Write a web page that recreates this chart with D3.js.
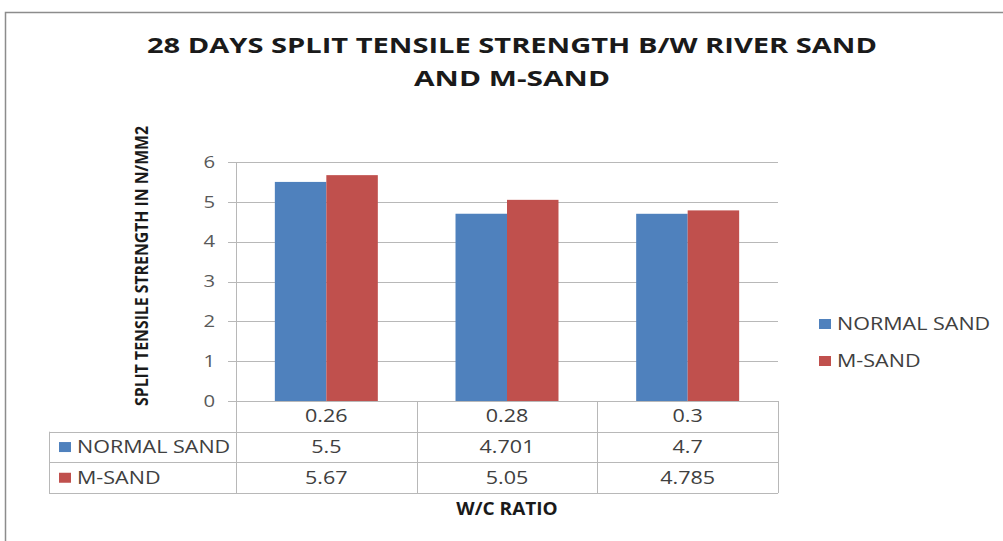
<!DOCTYPE html>
<html>
<head>
<meta charset="utf-8">
<script src="https://cdn.jsdelivr.net/npm/d3@7"></script>
<style>
  body { margin: 0; background: #fff; }
  svg { display: block; font-family: "Open Sans", sans-serif; }
</style>
</head>
<body>
<div id="chart"></div>
<script>
const W = 1003, H = 541;
const categories = ["0.26", "0.28", "0.3"];
const seriesNames = ["NORMAL SAND", "M-SAND"];
const normalSand = [5.5, 4.701, 4.7];
const mSand = [5.67, 5.05, 4.785];
const tableLabels = [["5.5", "4.701", "4.7"], ["5.67", "5.05", "4.785"]];
const yTicks = [0, 1, 2, 3, 4, 5, 6];
const COLORS = ["#4F81BD", "#C0504D"];

const PLOT = { left: 236, right: 778, top: 162, bottom: 401 };
const TABLE = { left: 49, rowH: 30.7 };
const SX = 1.23;           // the source picture is stretched horizontally
const TXT = "#404040";

const svg = d3.select("#chart").append("svg")
  .attr("width", W).attr("height", H);

// stretched text helper
function label(g, x, y, text, opts = {}) {
  return g.append("text")
    .attr("transform", `translate(${x},${y}) scale(${opts.sx || SX},1)`)
    .attr("dy", "0.35em")
    .attr("text-anchor", opts.anchor || "start")
    .attr("font-size", opts.size || 17.5)
    .attr("font-weight", opts.weight || "normal")
    .attr("fill", opts.fill || TXT)
    .text(text);
}

// outer frame
svg.append("path")
  .attr("d", `M5.5,${H} L5.5,12.5 L${W},12.5`)
  .attr("fill", "none").attr("stroke", "#8c8c8c").attr("stroke-width", 1.5);

// title
const title = svg.append("text")
  .attr("text-anchor", "middle")
  .attr("font-weight", "bold").attr("font-size", 22).attr("fill", "#1a1a1a");
title.append("tspan").attr("x", 512).attr("y", 53)
  .attr("textLength", 730).attr("lengthAdjust", "spacingAndGlyphs")
  .text("28 DAYS SPLIT TENSILE STRENGTH B/W RIVER SAND");
title.append("tspan").attr("x", 512).attr("y", 86)
  .attr("textLength", 196).attr("lengthAdjust", "spacingAndGlyphs")
  .text("AND M-SAND");

const x = d3.scaleBand().domain(categories).range([PLOT.left, PLOT.right]);
const xInner = d3.scaleBand().domain(seriesNames)
  .range([0, x.bandwidth() * 0.57]);
const y = d3.scaleLinear().domain([0, 6]).range([PLOT.bottom, PLOT.top]);

// gridlines
svg.append("g").selectAll("line").data(yTicks).join("line")
  .attr("x1", PLOT.left - 8).attr("x2", PLOT.right)
  .attr("y1", d => Math.round(y(d)) + 0.5).attr("y2", d => Math.round(y(d)) + 0.5)
  .attr("stroke", "#b8b8b8").attr("stroke-width", 1);

// y axis line
svg.append("line")
  .attr("x1", PLOT.left + 0.5).attr("x2", PLOT.left + 0.5)
  .attr("y1", PLOT.top).attr("y2", PLOT.bottom)
  .attr("stroke", "#b8b8b8");

// y tick labels
const yl = svg.append("g");
yTicks.forEach(t => label(yl, 215, y(t), t, { anchor: "end", size: 16.5, fill: "#595959" }));

// y axis title
svg.append("text")
  .attr("transform", `translate(148,${(126 + 406) / 2}) rotate(-90)`)
  .attr("text-anchor", "middle").attr("font-weight", "bold")
  .attr("font-size", 18).attr("fill", "#1a1a1a")
  .attr("textLength", 280).attr("lengthAdjust", "spacingAndGlyphs")
  .text("SPLIT TENSILE STRENGTH IN N/MM2");

// bars
const data = [normalSand, mSand];
const groups = svg.append("g").selectAll("g").data(categories).join("g")
  .attr("transform", c => `translate(${x(c) + (x.bandwidth() - xInner.range()[1]) / 2},0)`);
groups.selectAll("rect")
  .data((c, i) => seriesNames.map((s, j) => ({ s, v: data[j][i], j })))
  .join("rect")
  .attr("x", d => xInner(d.s)).attr("width", xInner.bandwidth())
  .attr("y", d => y(d.v)).attr("height", d => y(0) - y(d.v))
  .attr("fill", d => COLORS[d.j]);

// data table
const tableTop = PLOT.bottom;
const tableBottom = tableTop + TABLE.rowH * 3;
const lineColor = "#b8b8b8";
const tg = svg.append("g");
[1, 2, 3].forEach(r => {
  const yy = Math.round(tableTop + TABLE.rowH * r) + 0.5;
  tg.append("line")
    .attr("x1", TABLE.left).attr("x2", PLOT.right)
    .attr("y1", yy).attr("y2", yy).attr("stroke", lineColor);
});
categories.concat([null]).forEach(c => {
  const xx = Math.round(c === null ? PLOT.right : x(c)) + 0.5;
  tg.append("line")
    .attr("x1", xx).attr("x2", xx)
    .attr("y1", tableTop).attr("y2", tableBottom).attr("stroke", lineColor);
});
tg.append("line")
  .attr("x1", TABLE.left + 0.5).attr("x2", TABLE.left + 0.5)
  .attr("y1", tableTop + TABLE.rowH).attr("y2", tableBottom).attr("stroke", lineColor);

categories.forEach(c =>
  label(tg, x(c) + x.bandwidth() / 2, tableTop + TABLE.rowH / 2, c, { anchor: "middle" }));

seriesNames.forEach((s, j) => {
  const cy = tableTop + TABLE.rowH * (j + 1.5);
  tg.append("rect").attr("x", 59).attr("y", cy - 5)
    .attr("width", 12).attr("height", 10).attr("fill", COLORS[j]);
  label(tg, 77, cy, s);
  categories.forEach((c, i) =>
    label(tg, x(c) + x.bandwidth() / 2, cy, tableLabels[j][i], { anchor: "middle" }));
});

// x axis title
label(svg, PLOT.left + (PLOT.right - PLOT.left) / 2, 509, "W/C RATIO",
  { anchor: "middle", weight: "bold", size: 17, fill: "#1a1a1a", sx: 1.12 });

// legend
const lg = svg.append("g");
seriesNames.forEach((s, j) => {
  const cy = 324 + j * 37;
  lg.append("rect").attr("x", 819).attr("y", cy - 5)
    .attr("width", 12).attr("height", 10).attr("fill", COLORS[j]);
  label(lg, 837, cy, s);
});
</script>
</body>
</html>
